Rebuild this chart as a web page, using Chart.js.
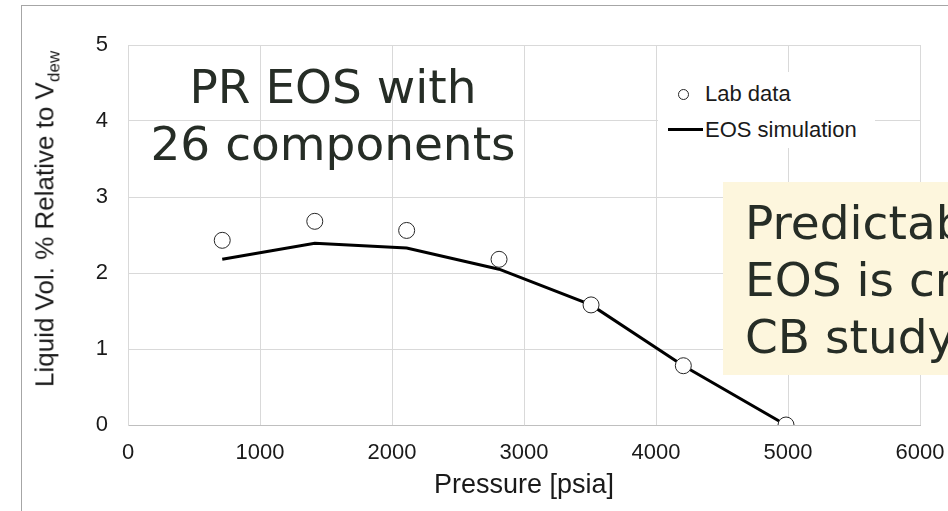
<!DOCTYPE html>
<html>
<head>
<meta charset="utf-8">
<script src="https://cdn.jsdelivr.net/npm/chart.js@4"></script>
<style>
    html, body { margin: 0; padding: 0; width: 948px; height: 511px; overflow: hidden; background: #fff; }
    .frame { position: absolute; left: 21px; top: 5px; width: 1000px; height: 600px; border: 1px solid #a6a6a6; }
    #chart { position: absolute; left: 0; top: 0; }
    .sans { font-family: 'Liberation Sans', Arial, sans-serif; color: #1a1a1a; }
    .note { position: absolute; font-family: 'DejaVu Sans', Verdana, sans-serif; font-size: 47px; line-height: 57px; color: #262d26; white-space: nowrap; }
</style>
</head>
<body>
<div class="frame"></div>
<canvas id="chart" width="948" height="511"></canvas>

<div class="sans" style="position:absolute; left:47px; top:219px; transform:translate(-50%,-50%) rotate(-90deg); font-size:26px; white-space:nowrap;">
    Liquid Vol. % Relative to V<sub style="font-size:17px;">dew</sub>
</div>

<!-- legend -->
<div style="position:absolute; left:658px; top:72px; width:217px; height:76px; background:#fff;"></div>
<div style="position:absolute; left:678px; top:89px; width:9px; height:9px; border:1px solid #262626; border-radius:50%; background:#fff;"></div>
<div style="position:absolute; left:668px; top:128px; width:35px; height:3px; background:#000;"></div>
<div class="sans" style="position:absolute; left:705px; top:81px; font-size:22px; line-height:26px;">Lab data</div>
<div class="sans" style="position:absolute; left:705px; top:117px; font-size:22px; line-height:26px;">EOS simulation</div>

<!-- annotations -->
<div class="note" style="left:133px; top:58px; width:400px; text-align:center;">PR EOS with<br>26 components</div>
<div class="note" style="left:723px; top:182px; width:400px; height:193px; background:#fdf6dd; padding:12px 0 0 22px; box-sizing:border-box;">Predictability of<br>EOS is critical for<br>CB study</div>

<script>
// values
const pressure = [714, 1415, 2111, 2811, 3508, 4207, 4985];
const labData = [2.43, 2.68, 2.56, 2.18, 1.58, 0.78, 0];
const eosSim = [2.18, 2.39, 2.33, 2.05, 1.58, 0.78, 0];
const xTicks = [0, 1000, 2000, 3000, 4000, 5000, 6000];
const yTicks = [0, 1, 2, 3, 4, 5];

const toPoints = ys => pressure.map((p, i) => ({ x: p, y: ys[i] }));
const tickFont = { family: "'Liberation Sans', Arial, sans-serif", size: 22 };

new Chart(document.getElementById('chart'), {
    type: 'scatter',
    data: {
        datasets: [{
            label: 'Lab data',
            data: toPoints(labData),
            pointRadius: 8,
            pointBackgroundColor: '#fff',
            pointBorderColor: '#262626',
            pointBorderWidth: 1,
            showLine: false
        }, {
            label: 'EOS simulation',
            data: toPoints(eosSim),
            showLine: true,
            pointRadius: 0,
            borderColor: '#000',
            borderWidth: 3,
            tension: 0
        }]
    },
    options: {
        responsive: false,
        animation: false,
        devicePixelRatio: 1,
        layout: { padding: { left: 0, top: 45, right: 28, bottom: 0 } },
        plugins: { legend: { display: false }, tooltip: { enabled: false } },
        scales: {
            x: {
                type: 'linear', min: xTicks[0], max: xTicks[xTicks.length - 1],
                afterBuildTicks: s => { s.ticks = xTicks.map(v => ({ value: v })); },
                afterFit: s => { s.height = 86; s.paddingLeft = 0; s.paddingRight = 0; },
                grid: { color: '#d9d9d9', drawTicks: false },
                border: { color: '#bfbfbf' },
                ticks: { font: tickFont, color: '#1a1a1a', padding: 15, maxRotation: 0, callback: v => String(v) },
                title: { display: true, text: 'Pressure [psia]', color: '#1a1a1a',
                    font: { family: "'Liberation Sans', Arial, sans-serif", size: 27 },
                    padding: { top: 0, bottom: 9 } }
            },
            y: {
                min: yTicks[0], max: yTicks[yTicks.length - 1],
                afterBuildTicks: s => { s.ticks = yTicks.map(v => ({ value: v })); },
                afterFit: s => { s.width = 128; s.paddingTop = 0; s.paddingBottom = 0; },
                grid: { color: '#d9d9d9', drawTicks: false },
                border: { color: '#d9d9d9' },
                ticks: { font: tickFont, color: '#1a1a1a', padding: 20, callback: v => String(v) }
            }
        }
    }
});
</script>
</body>
</html>
